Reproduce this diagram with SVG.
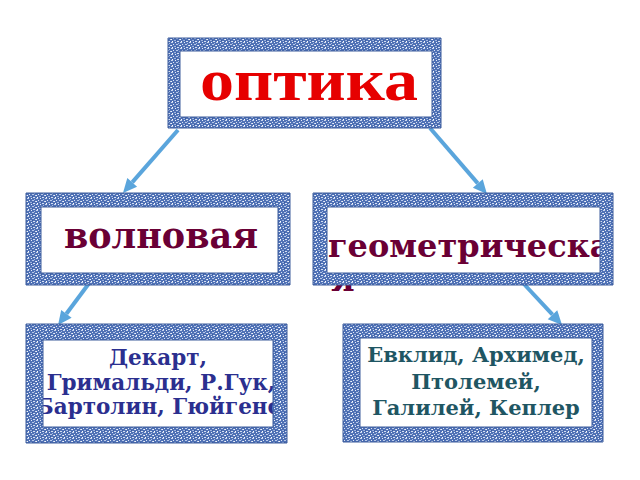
<svg xmlns="http://www.w3.org/2000/svg" width="640" height="480" viewBox="0 0 640 480">
<defs>
<pattern id="tex" width="9" height="6" patternUnits="userSpaceOnUse">
<rect width="9" height="6" fill="#4f71b5"/>
<rect x="0" y="0" width="2" height="1" fill="#c9d6ef"/>
<rect x="4" y="0" width="1" height="1" fill="#e8eefa"/>
<rect x="7" y="1" width="1" height="1" fill="#a9bde3"/>
<rect x="2" y="2" width="1" height="1" fill="#dfe7f6"/>
<rect x="5" y="2" width="2" height="1" fill="#b8c9ea"/>
<rect x="0" y="3" width="1" height="1" fill="#f2f5fb"/>
<rect x="8" y="3" width="1" height="1" fill="#cbd8f0"/>
<rect x="3" y="4" width="2" height="1" fill="#9fb5df"/>
<rect x="6" y="5" width="2" height="1" fill="#d6e0f3"/>
<rect x="1" y="5" width="1" height="1" fill="#ffffff"/>
<rect x="5" y="4" width="1" height="1" fill="#3a5a9e"/>
</pattern>
<clipPath id="c-geo"><rect x="327" y="207" width="273" height="90"/></clipPath>
<clipPath id="c-wave"><rect x="43" y="340" width="230" height="87"/></clipPath>
<marker id="ah" viewBox="-1 -7 16 14" markerWidth="16" markerHeight="14" refX="0" refY="0" orient="auto" markerUnits="userSpaceOnUse">
<path d="M0,-6.5 L14,0 L0,6.5 z" fill="#5aa5dc"/>
</marker>
</defs>
<style>
.frame{fill:url(#tex);fill-rule:evenodd;stroke:#3d5c9c;stroke-width:1}
.inner{fill:#ffffff}
.conn{stroke:#5aa5dc;stroke-width:4;fill:none;marker-end:url(#ah)}
.t1{font-family:"Liberation Serif","Times New Roman",serif;font-weight:bold;font-size:60px;fill:#e60000}
.t2{font-family:"DejaVu Serif",serif;font-weight:bold;font-size:35px;fill:#6a0035}
.t2b{font-family:"DejaVu Serif",serif;font-weight:bold;font-size:32px;fill:#6a0035}
.t3{font-family:"DejaVu Serif",serif;font-weight:bold;font-size:21.5px;fill:#2b2f8f}
.t4{font-family:"DejaVu Serif",serif;font-weight:bold;font-size:21px;fill:#1f5663}
</style>
<rect width="640" height="480" fill="#ffffff"/>
<g id="connectors">
<path class="conn" d="M178,130 L132.2,182.4"/>
<path class="conn" d="M430,128 L477.8,183.4"/>
<path class="conn" d="M90,282 L66.4,313.8"/>
<path class="conn" d="M523,283 L552.5,314.7"/>
</g>
<g id="optika">
<rect class="inner" x="180" y="51" width="252" height="66"/>
<text class="t1" x="309" y="100" text-anchor="middle" textLength="218" lengthAdjust="spacingAndGlyphs">оптика</text>
<path class="frame" d="M168,38 H441 V128 H168 Z M180,51 V117 H432 V51 Z"/>
</g>
<g id="volnovaya">
<rect class="inner" x="41" y="207" width="237" height="66"/>
<text class="t2" x="161" y="248" text-anchor="middle">волновая</text>
<path class="frame" d="M26,193 H290 V285 H26 Z M41,207 V273 H278 V207 Z"/>
</g>
<g id="geometricheskaya">
<rect class="inner" x="327" y="207" width="273" height="66"/>
<text class="t2b" clip-path="url(#c-geo)"><tspan x="328" y="257">геометрическа</tspan><tspan x="331" y="291">я</tspan></text>
<path class="frame" d="M313,193 H613 V285 H313 Z M327,207 V273 H600 V207 Z"/>
</g>
<g id="wave-scientists">
<rect class="inner" x="43" y="340" width="230" height="87"/>
<text class="t3" text-anchor="middle" clip-path="url(#c-wave)"><tspan x="158" y="365">Декарт,</tspan><tspan x="161" y="390">Гримальди, Р.Гук,</tspan><tspan x="158" y="414">Бартолин, Гюйгенс</tspan></text>
<path class="frame" d="M26,324 H287 V443 H26 Z M43,340 V427 H273 V340 Z"/>
</g>
<g id="geom-scientists">
<rect class="inner" x="360" y="338" width="232" height="89"/>
<text class="t4" text-anchor="middle"><tspan x="476" y="362">Евклид, Архимед,</tspan><tspan x="476" y="389">Птолемей,</tspan><tspan x="476" y="415">Галилей, Кеплер</tspan></text>
<path class="frame" d="M343,324 H603 V442 H343 Z M360,338 V427 H592 V338 Z"/>
</g>
</svg>
